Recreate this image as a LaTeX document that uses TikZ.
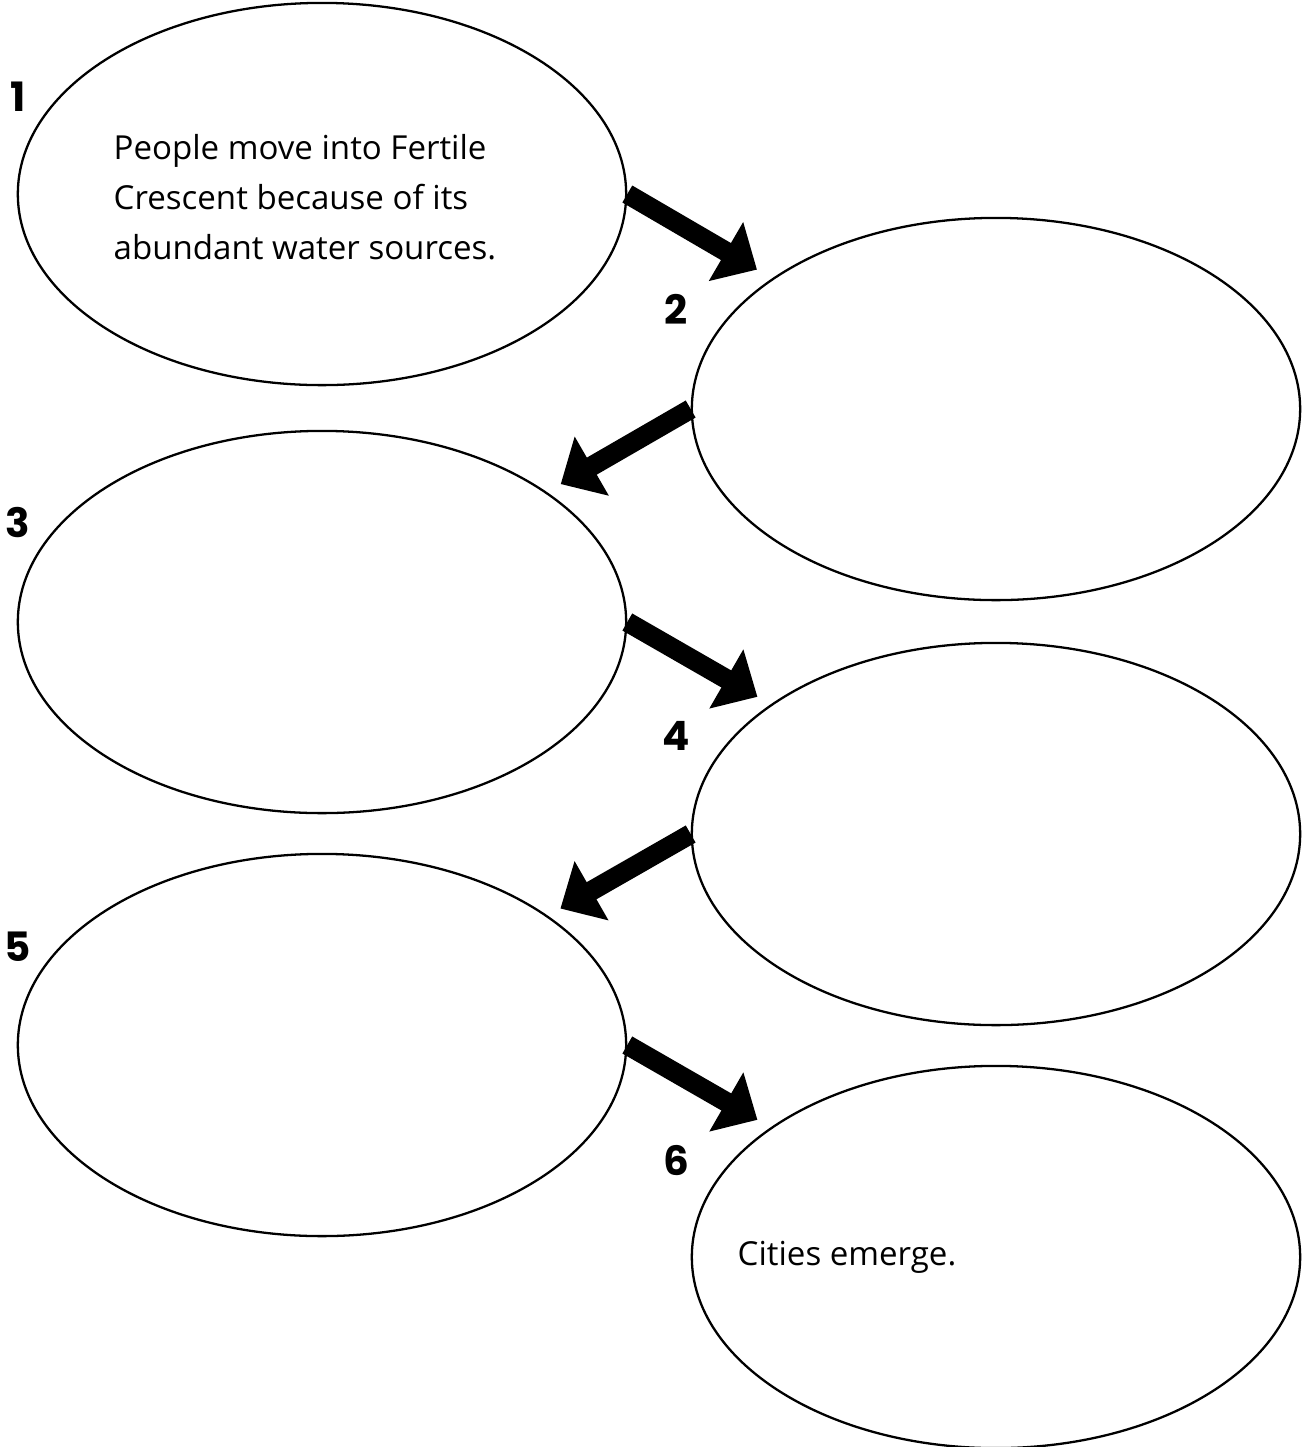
\documentclass[tikz,border=0pt]{standalone}
\usepackage{fontspec}
\setmainfont{Open Sans}
\newfontfamily\numfont{Poppins}
\usetikzlibrary{shapes.geometric,arrows.meta,calc}
\begin{document}
\begin{tikzpicture}[x=0.01cm,y=-0.01cm,
  bubble/.style={draw,ellipse,line width=0.65pt,minimum width=6.08cm,minimum height=3.82cm,inner sep=0pt},
  num/.style={font=\numfont\bfseries\fontsize{11.5}{13}\selectfont,inner sep=0pt},
  note/.style={font=\fontsize{9.4}{14.2}\selectfont,align=left,anchor=west,inner sep=0pt},
  flow/.style={line width=5.6pt,-{Triangle[length=10.2pt,width=18.8pt]}}]
\useasboundingbox (0,0) rectangle (1302,1447);

% the six stages
\node[bubble] (e1) at (322,194) {};
\node[bubble] (e2) at (996,409) {};
\node[bubble] (e3) at (322,622) {};
\node[bubble] (e4) at (996,834) {};
\node[bubble] (e5) at (322,1045) {};
\node[bubble] (e6) at (996,1257) {};

% stage numbers
\node[num] (n1) at (18,97) {1};
\node[num] (n2) at (676,309) {2};
\node[num] (n3) at (18,523) {3};
\node[num] (n4) at (676,736) {4};
\node[num] (n5) at (18,947) {5};
\node[num] (n6) at (676,1160) {6};

% given text
\node[note] (t1) at (113,197) {People move into Fertile\\Crescent because of its\\abundant water sources.};
\node[note] (t6) at (737,1257) {Cities emerge.};

% arrows from one stage to the next
\coordinate (a1) at ($(e1.east)!1.5cm!(e2.center)$);
\coordinate (a2) at ($(e2.west)!1.5cm!(e3.center)$);
\coordinate (a3) at ($(e3.east)!1.5cm!(e4.center)$);
\coordinate (a4) at ($(e4.west)!1.5cm!(e5.center)$);
\coordinate (a5) at ($(e5.east)!1.5cm!(e6.center)$);
\draw[flow] (e1.east) -- (a1);
\draw[flow] (e2.west) -- (a2);
\draw[flow] (e3.east) -- (a3);
\draw[flow] (e4.west) -- (a4);
\draw[flow] (e5.east) -- (a5);
\end{tikzpicture}
\end{document}
